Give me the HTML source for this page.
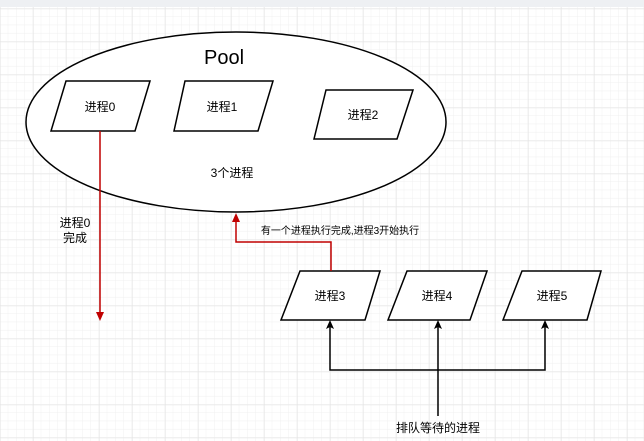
<!DOCTYPE html>
<html><head><meta charset="utf-8"><style>
html,body{margin:0;padding:0;width:644px;height:441px;overflow:hidden;background:#fff}
</style></head><body>
<svg width="644" height="441" xmlns="http://www.w3.org/2000/svg" font-family="Liberation Sans, Noto Sans CJK SC, sans-serif">
<defs>
<pattern id="minor" width="8.25" height="8.25" patternUnits="userSpaceOnUse" x="0" y="0.45">
<path d="M8.25 0V8.25M0 8.25H8.25" stroke="#f0f0f0" stroke-width="1" fill="none"/>
</pattern>
<pattern id="major" width="33" height="33" patternUnits="userSpaceOnUse" x="0" y="8.7">
<path d="M0 0V33M0 0H33" stroke="#e2e2e2" stroke-width="1" fill="none"/>
</pattern>
</defs>
<rect width="644" height="441" fill="url(#minor)"/>
<rect width="644" height="441" fill="url(#major)"/>
<rect width="644" height="7" fill="#eef0f3"/>
<ellipse cx="236" cy="122" rx="210" ry="90" fill="#fff" stroke="#000" stroke-width="1.5"/>
<text x="224" y="64" font-size="20" text-anchor="middle">Pool</text>
<text x="232" y="177" font-size="12" text-anchor="middle">3个进程</text>
<g fill="#fff" stroke="#000" stroke-width="1.5">
<polygon points="66,81 150,81 135,131 51,131"/>
<polygon points="185,81 273,81 258,131 174,131"/>
<polygon points="326,90 413,90 397,139 314,139"/>
<polygon points="300,271 380,271 365,320 281,320"/>
<polygon points="407,271 487,271 470,320 388,320"/>
<polygon points="522,271 601,271 587,320 503,320"/>
</g>
<g font-size="12" text-anchor="middle">
<text x="100" y="111">进程0</text>
<text x="222" y="111">进程1</text>
<text x="363" y="119">进程2</text>
<text x="330" y="300">进程3</text>
<text x="437" y="300">进程4</text>
<text x="552" y="300">进程5</text>
<text x="75" y="227">进程0</text>
<text x="75" y="242">完成</text>
<text x="438" y="432">排队等待的进程</text>
</g>
<text x="340" y="234" font-size="10" text-anchor="middle">有一个进程执行完成,进程3开始执行</text>
<g stroke="#c00000" stroke-width="1.5" fill="none">
<line x1="100" y1="131" x2="100" y2="314"/>
<polyline points="331,271 331,242 236,242 236,220"/>
</g>
<g fill="#c00000">
<polygon points="100,321 96,312 104,312"/>
<polygon points="236,213 232,222 240,222"/>
</g>
<g stroke="#000" stroke-width="1.5" fill="none">
<polyline points="330,327 330,370 545,370 545,327"/>
<line x1="438" y1="327" x2="438" y2="416"/>
</g>
<g fill="#000">
<polygon points="330,320 326,329 330,327 334,329"/>
<polygon points="438,320 434,329 438,327 442,329"/>
<polygon points="545,320 541,329 545,327 549,329"/>
</g>
</svg>
</body></html>
